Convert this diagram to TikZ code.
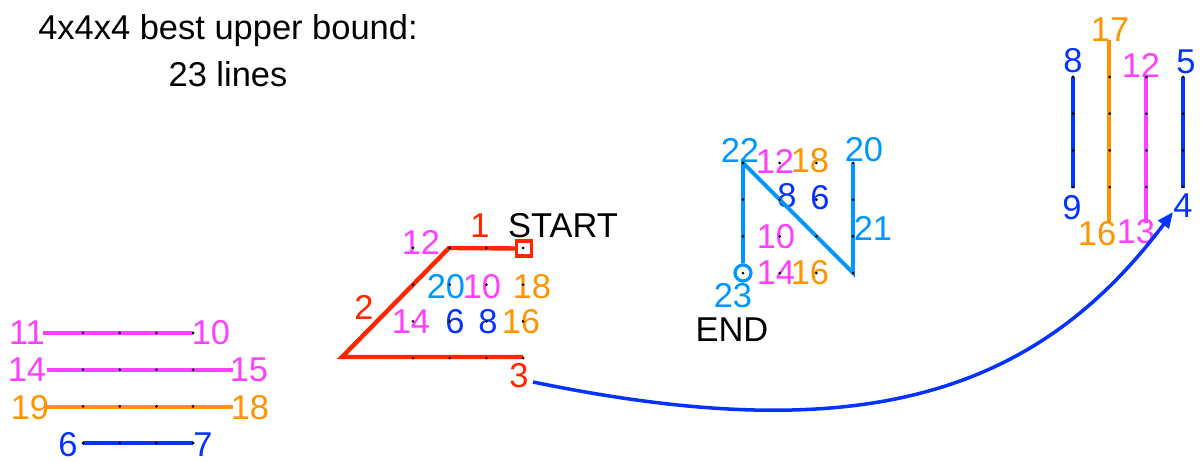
\documentclass[tikz,border=0pt]{standalone}
\usepackage{fontspec}
\setmainfont{Liberation Sans}
\usetikzlibrary{arrows.meta}
\definecolor{pinkc}{HTML}{FF40FF}
\definecolor{orangec}{HTML}{FF9300}
\definecolor{bluec}{HTML}{0433FF}
\definecolor{redc}{HTML}{FF2600}
\definecolor{cyanc}{HTML}{0096FF}

\begin{document}
\begin{tikzpicture}[
  x=0.01cm, y=-0.01cm,
  >={Triangle[length=1.6mm, width=1.3mm]},
  every node/.style={font=\fontsize{9.8}{13.4}\selectfont},
  num/.style={inner sep=0pt},
  seg/.style={line width=1pt},
  redseg/.style={line width=1.25pt, redc, line join=miter},
  dot/.style={fill=black},
]
\useasboundingbox (0,0) rectangle (1202,462);

\node[align=center] (title) at (228,51) {4x4x4 best upper bound:\\23 lines};

% first layer
\node[num, pinkc] (a11) at (27,333) {11};
\node[num, pinkc] (a10) at (211,333) {10};
\node[num, pinkc] (a14) at (27,370) {14};
\node[num, pinkc] (a15) at (249,370) {15};
\node[num, orangec] (a19) at (30,408) {19};
\node[num, orangec] (a18) at (250,408) {18};
\node[num, bluec] (a6) at (68,445) {6};
\node[num, bluec] (a7) at (203,445) {7};
\coordinate (l10a) at (43,333);  \coordinate (l10b) at (193,333);
\coordinate (l14a) at (47,370);  \coordinate (l14b) at (233,370);
\coordinate (l18a) at (47,407);  \coordinate (l18b) at (233,407);
\coordinate (l6a) at (83,443);   \coordinate (l6b) at (193,443);
\draw[seg, pinkc] (l10a) -- (l10b);
\draw[seg, pinkc] (l14a) -- (l14b);
\draw[seg, orangec] (l18a) -- (l18b);
\draw[seg, bluec] (l6a) -- (l6b);

% second layer
\node[draw=redc, line width=0.9pt, minimum size=0.15cm, inner sep=0pt] (startbox) at (524,248.5) {};
\node[num] (start) at (563,226) {START};
\node[num, redc] (b1) at (480,226) {1};
\node[num, pinkc] (b12) at (421,242) {12};
\node[num, redc] (b2) at (364,307) {2};
\node[num, redc] (b3) at (519,376) {3};
\node[num, cyanc] (b20) at (446,287) {20};
\node[num, pinkc] (b10) at (482,287) {10};
\node[num, orangec] (b18) at (532,287) {18};
\node[num, pinkc] (b14) at (411,322) {14};
\node[num, bluec] (b6) at (455,322) {6};
\node[num, bluec] (b8) at (488,322) {8};
\node[num, orangec] (b16) at (521,322) {16};
\coordinate (r1) at (449,248);
\coordinate (r2) at (342,357);
\coordinate (r3) at (523,357);
\draw[redseg] (startbox.west) -- (r1) -- (r2) -- (r3);

% third layer
\node[circle, draw=cyanc, line width=0.9pt, minimum size=0.16cm, inner sep=0pt] (endc) at (743,273) {};
\node[num] (end) at (732,330) {END};
\node[num, cyanc] (c22) at (740,150) {22};
\node[num, pinkc] (c12) at (775,161) {12};
\node[num, orangec] (c18) at (810,161) {18};
\node[num, cyanc] (c20) at (864,150) {20};
\node[num, bluec] (c8) at (787,196) {8};
\node[num, bluec] (c6) at (820,198) {6};
\node[num, cyanc] (c21) at (873,228) {21};
\node[num, pinkc] (c10) at (776,237) {10};
\node[num, pinkc] (c14) at (776,273) {14};
\node[num, orangec] (c16) at (810,273) {16};
\node[num, cyanc] (c23) at (733,296) {23};
\coordinate (k1) at (743,163);
\coordinate (k2) at (853,273);
\coordinate (k3) at (853,163);
\draw[seg, cyanc, line width=1.1pt] (endc.north) -- (k1) -- (k2) -- (k3);

% fourth layer
\node[num, bluec] (d8) at (1073,61) {8};
\node[num, bluec] (d9) at (1072,208) {9};
\node[num, orangec] (d17) at (1110,30) {17};
\node[num, orangec] (d16) at (1097,234) {16};
\node[num, pinkc] (d12) at (1141,65) {12};
\node[num, pinkc] (d13) at (1136,232) {13};
\node[num, bluec] (d5) at (1186,62) {5};
\node[num, bluec] (d4) at (1183,206) {4};
\coordinate (v8) at (1073,77);    \coordinate (v9) at (1073,188);
\coordinate (v17) at (1109,40);   \coordinate (v16) at (1109,223);
\coordinate (v12) at (1146,77);   \coordinate (v13) at (1146,223);
\coordinate (v5) at (1183,77);    \coordinate (v4) at (1183,188);
\draw[seg, bluec] (v8) -- (v9);
\draw[seg, orangec] (v17) -- (v16);
\draw[seg, pinkc] (v12) -- (v13);
\draw[seg, bluec] (v5) -- (v4);

% jump from 3 to 4
\coordinate (jumpa) at (533,382);
\coordinate (jumpb) at (1173,212);
\draw[->, seg, bluec] (jumpa) .. controls (857,449) and (1034,397) .. (jumpb);

% grid points
\foreach \ox/\oy in {83/333, 413/248, 743/163, 1073/77}
  \foreach \i in {0,...,3}
    \foreach \j in {0,...,3}
      \fill[dot] (\ox+36.7*\i, \oy+36.7*\j) circle (1.5);
\end{tikzpicture}
\end{document}
